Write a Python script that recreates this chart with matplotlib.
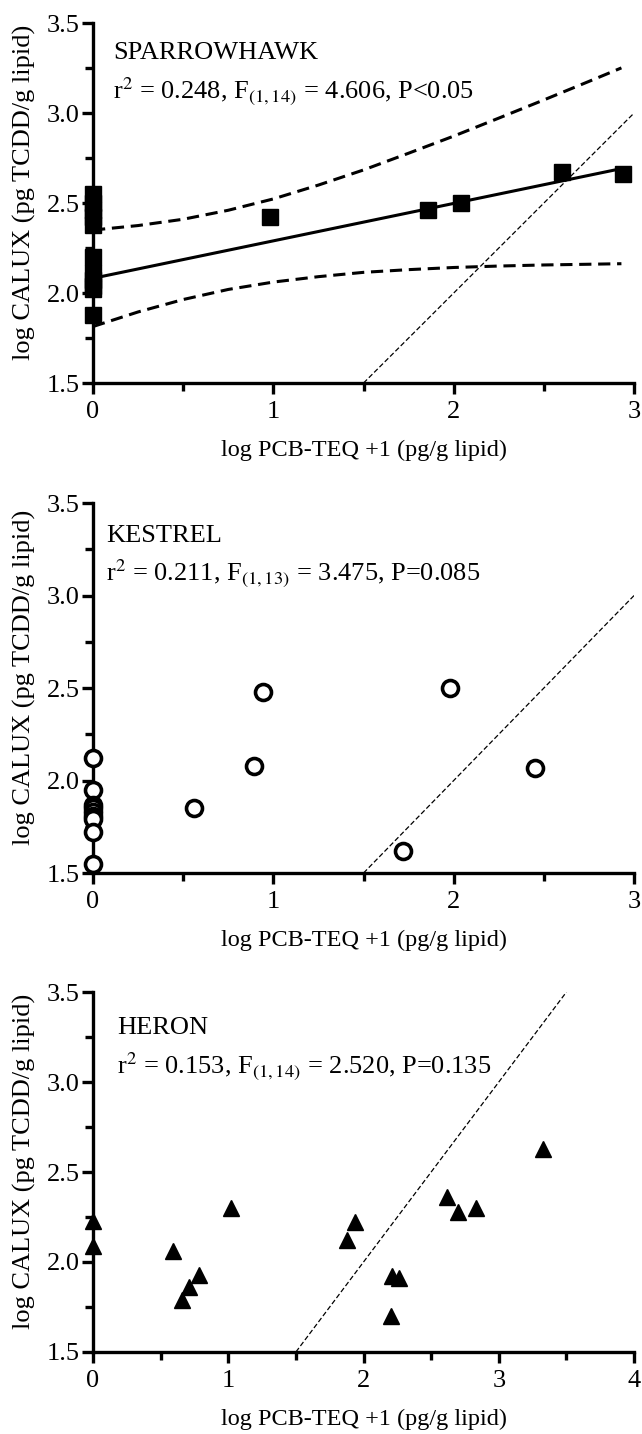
import matplotlib
matplotlib.use('Agg')
import matplotlib.pyplot as plt
import numpy as np
from matplotlib.ticker import MultipleLocator, FormatStrFormatter

plt.rcParams['font.family'] = ['Liberation Serif', 'DejaVu Serif']
plt.rcParams['mathtext.fontset'] = 'stix'

# sparrowhawk data (log PCB-TEQ+1, log CALUX)
sparrow_x = [0, 0, 0, 0, 0, 0, 0, 0, 0, 0, 0, 0.98, 1.86, 2.04, 2.60, 2.94]
sparrow_y = [2.55, 2.50, 2.46, 2.42, 2.38, 2.20, 2.11, 2.07, 2.04, 2.02, 1.88,
             2.42, 2.46, 2.50, 2.67, 2.66]
# linear fit and 95% band
fit_intercept = 2.082
fit_slope = 0.208
fit_xmax = 2.93
band_x = [0, 0.25, 0.5, 0.75, 1.0, 1.25, 1.5, 1.75, 2.0, 2.25, 2.5, 2.75, 2.93]
band_upper = [2.350, 2.375, 2.410, 2.460, 2.523, 2.600, 2.684, 2.777, 2.872,
              2.972, 3.073, 3.176, 3.251]
band_lower = [1.814, 1.895, 1.964, 2.020, 2.061, 2.091, 2.115, 2.130, 2.142,
              2.150, 2.156, 2.160, 2.163]

# kestrel
kestrel_x = [0, 0, 0, 0, 0, 0, 0, 0, 0, 0.56, 0.89, 0.94, 1.72, 1.98, 2.45]
kestrel_y = [2.12, 1.95, 1.87, 1.85, 1.83, 1.81, 1.79, 1.72, 1.55,
             1.85, 2.08, 2.48, 1.62, 2.50, 2.07]

# heron
heron_x = [0, 0, 0.59, 0.66, 0.71, 0.78, 1.02, 1.88, 1.94, 2.20, 2.21, 2.26,
           2.62, 2.70, 2.83, 3.33]
heron_y = [2.23, 2.09, 2.06, 1.79, 1.86, 1.93, 2.30, 2.12, 2.22, 1.70, 1.92,
           1.91, 2.36, 2.28, 2.30, 2.63]

# 1:1 reference lines
ref_12 = [1.5, 3.0]
ref_3 = [1.5, 3.5]

xlabel = 'log PCB-TEQ +1 (pg/g lipid)'
ylabel = 'log CALUX (pg TCDD/g lipid)'

fig = plt.figure(figsize=(6.42, 14.34), dpi=100)
ax1 = fig.add_axes([0.1449, 0.7329, 0.8427, 0.2510])
ax2 = fig.add_axes([0.1449, 0.3912, 0.8427, 0.2580])
ax3 = fig.add_axes([0.1449, 0.0572, 0.8427, 0.2510])


def style(ax, xmax):
    ax.set_xlim(0, xmax)
    ax.set_ylim(1.5, 3.5)
    for s in ['top', 'right']:
        ax.spines[s].set_visible(False)
    for s in ['left', 'bottom']:
        ax.spines[s].set_linewidth(2.4)
    ax.xaxis.set_major_locator(MultipleLocator(1))
    ax.xaxis.set_minor_locator(MultipleLocator(0.5))
    ax.yaxis.set_major_locator(MultipleLocator(0.5))
    ax.yaxis.set_minor_locator(MultipleLocator(0.25))
    ax.xaxis.set_major_formatter(FormatStrFormatter('%d'))
    ax.yaxis.set_major_formatter(FormatStrFormatter('%.1f'))
    ax.tick_params(which='major', length=8, width=2.4, direction='out', labelsize=19)
    ax.tick_params(which='minor', length=6, width=2.4, direction='out')
    ax.tick_params(axis='y', pad=1.5)
    ax.tick_params(axis='x', pad=5)
    ax.set_xlabel(xlabel, fontsize=17.5, labelpad=12)
    ax.set_ylabel(ylabel, fontsize=19)
    ax.yaxis.set_label_coords(-0.105, 0.53)


# sparrowhawk
style(ax1, 3)
fx = np.array([0, fit_xmax])
ax1.plot(fx, fit_intercept + fit_slope * fx, color='black', lw=2.2)
ax1.plot(band_x, band_upper, color='black', lw=2.2, dashes=(4, 2.2))
ax1.plot(band_x, band_lower, color='black', lw=2.2, dashes=(4, 2.2))
ax1.plot(ref_12, ref_12, color='black', lw=0.9, dashes=(4, 2))
ax1.plot(sparrow_x, sparrow_y, 's', color='black', ms=11, clip_on=False, zorder=5)
ax1.text(0.11, 3.30, 'SPARROWHAWK', fontsize=19, va='baseline')
ax1.text(0.11, 3.085, r'r$^2$ = 0.248, F$_{(1,14)}$ = 4.606, P<0.05', fontsize=19, va='baseline')

# kestrel
style(ax2, 3)
ax2.plot(ref_12, ref_12, color='black', lw=0.9, dashes=(4, 2))
ax2.plot(kestrel_x, kestrel_y, 'o', mfc='white', mec='black', mew=2.6, ms=11.5,
         clip_on=False, zorder=5)
ax2.text(0.072, 3.29, 'KESTREL', fontsize=19, va='baseline')
ax2.text(0.072, 3.085, r'r$^2$ = 0.211, F$_{(1,13)}$ = 3.475, P=0.085', fontsize=19, va='baseline')

# heron
style(ax3, 4)
ax3.plot(ref_3, ref_3, color='black', lw=0.9, dashes=(4, 2))
ax3.plot(heron_x, heron_y, '^', color='black', ms=12, clip_on=False, zorder=5)
ax3.text(0.177, 3.267, 'HERON', fontsize=19, va='baseline')
ax3.text(0.177, 3.05, r'r$^2$ = 0.153, F$_{(1,14)}$ = 2.520, P=0.135', fontsize=19, va='baseline')

fig.savefig('out.png', dpi=100)
